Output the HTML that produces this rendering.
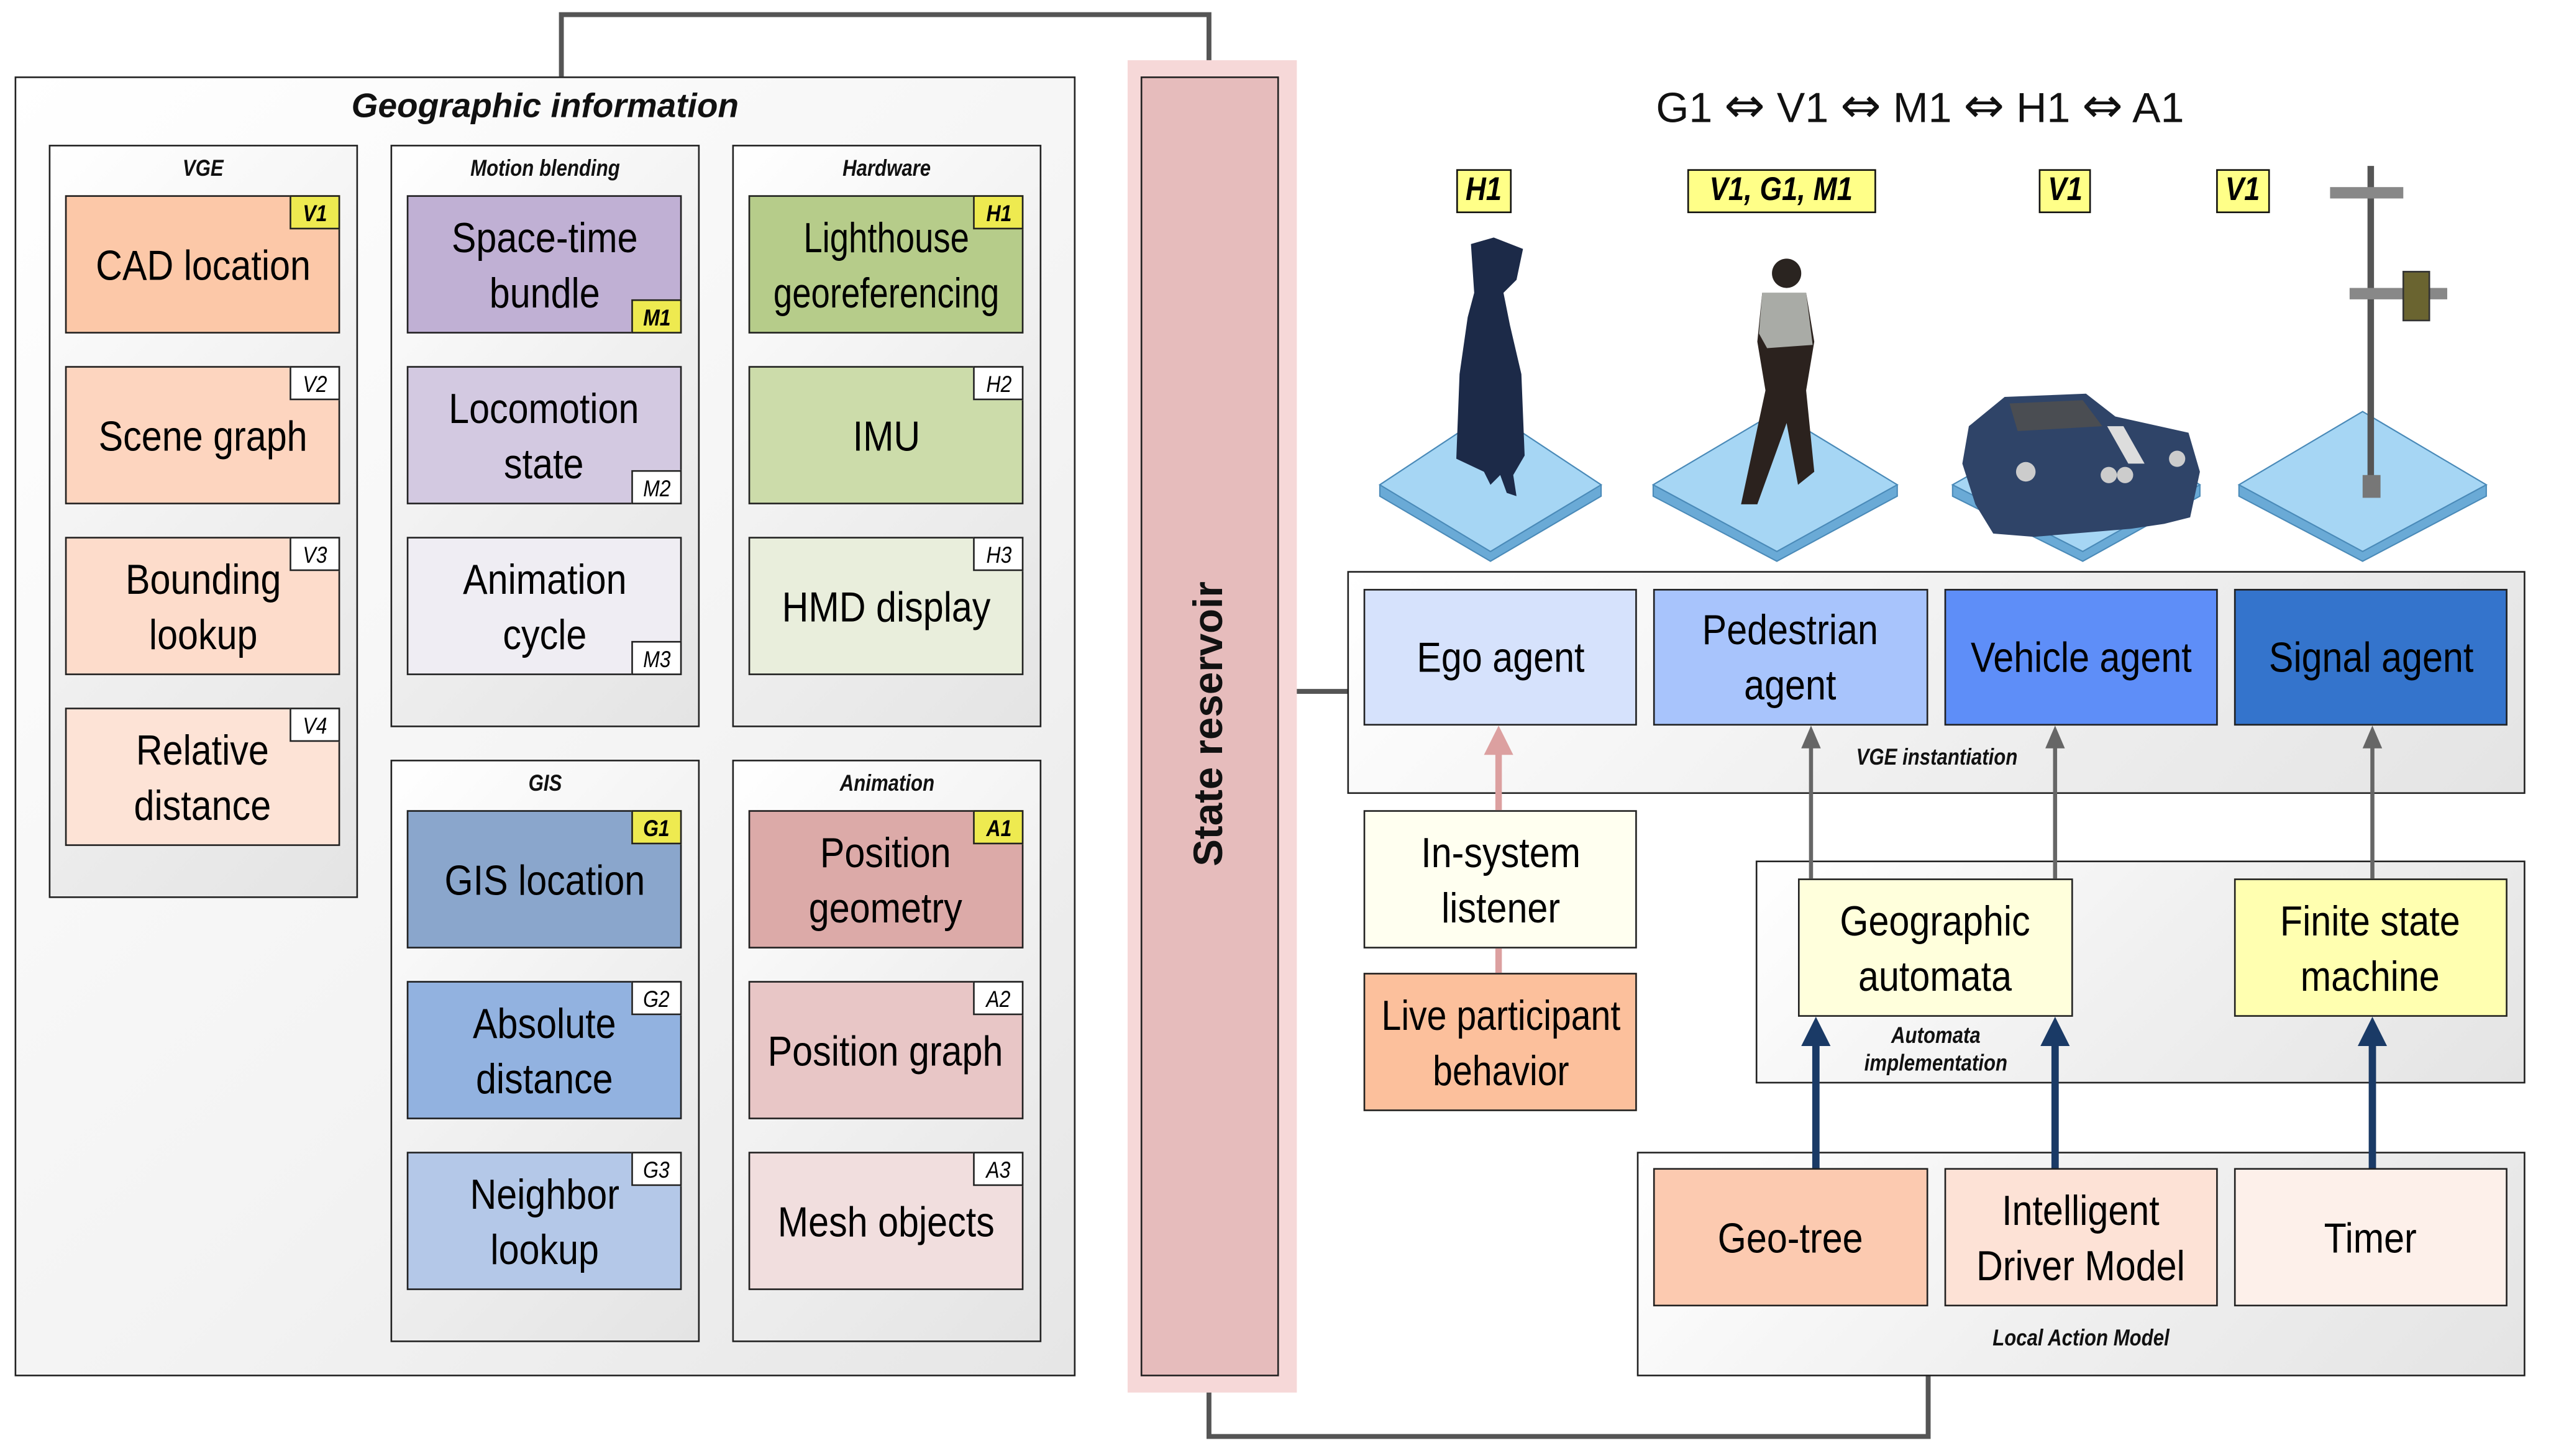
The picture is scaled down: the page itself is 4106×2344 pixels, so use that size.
<!DOCTYPE html>
<html><head><meta charset="utf-8"><style>
html,body{margin:0;padding:0;background:#fff;}
body{width:4106px;height:2342px;overflow:hidden;position:relative;}
#c{position:absolute;left:0;top:0;width:1568px;height:895px;transform:scale(2.619,2.619);transform-origin:0 0;font-family:"Liberation Sans",sans-serif;}
.a{position:absolute;box-sizing:border-box;}
.n{display:inline-block;transform:scaleX(0.87);white-space:nowrap;}
.panel{border:1.5px solid #222;background:linear-gradient(135deg,#ffffff 0%,#f0f0f0 50%,#e4e4e4 100%);}
.plab{position:absolute;left:0;right:0;text-align:center;font-weight:bold;font-style:italic;font-size:14px;color:#111;}
.plab .n{transform:scaleX(0.85);}
.box{border:1.5px solid #222;display:flex;align-items:center;justify-content:center;text-align:center;font-size:26px;line-height:34px;color:#000;}
.tag{position:absolute;width:31px;height:21px;border:1.2px solid #222;background:#fff;font-style:italic;font-size:14px;display:flex;align-items:center;justify-content:center;box-sizing:border-box;}
.tag.y{background:#eeea50;font-weight:bold;}
.tr{right:-1px;top:-1px;}
.br{right:-1px;bottom:-1px;}
.yl{position:absolute;border:1.5px solid #111;background:#ffff88;font-weight:bold;font-style:italic;font-size:20px;display:flex;align-items:center;justify-content:center;box-sizing:border-box;height:27px;}
</style></head><body><div id="c">

<svg class="a" style="left:0;top:0" width="1568" height="895">
<polyline points="345,47 345,9 743,9 743,47" fill="none" stroke="#555" stroke-width="3"/>
<polyline points="743,845 743,883 1185,883 1185,845" fill="none" stroke="#555" stroke-width="3"/>
<line x1="785" y1="425" x2="828" y2="425" stroke="#555" stroke-width="3"/>
</svg>

<div class="a" style="left:9px;top:47px;width:652px;height:799px;border:1.5px solid #222;background:linear-gradient(135deg,#fff 0%,#f3f3f3 60%,#e6e6e6 100%);">
 <div class="plab" style="top:6px;font-size:21px;"><span class="n" style="transform:scaleX(1)">Geographic information</span></div>
</div>

<div class="a panel" style="left:30px;top:89px;width:190px;height:463px;"><div class="plab" style="top:5px"><span class="n">VGE</span></div></div>
<div class="a panel" style="left:240px;top:89px;width:190px;height:358px;"><div class="plab" style="top:5px"><span class="n">Motion blending</span></div></div>
<div class="a panel" style="left:450px;top:89px;width:190px;height:358px;"><div class="plab" style="top:5px"><span class="n">Hardware</span></div></div>
<div class="a panel" style="left:240px;top:467px;width:190px;height:358px;"><div class="plab" style="top:5px"><span class="n">GIS</span></div></div>
<div class="a panel" style="left:450px;top:467px;width:190px;height:358px;"><div class="plab" style="top:5px"><span class="n">Animation</span></div></div>

<div class="a box" style="left:40px;top:120px;width:169px;height:85px;background:#fcc8a8;"><span class="n">CAD location</span><div class="tag y tr"><span class="n">V1</span></div></div>
<div class="a box" style="left:40px;top:225px;width:169px;height:85px;background:#fdd5bf;"><span class="n">Scene graph</span><div class="tag tr"><span class="n">V2</span></div></div>
<div class="a box" style="left:40px;top:330px;width:169px;height:85px;background:#fddccb;"><span class="n">Bounding<br>lookup</span><div class="tag tr"><span class="n">V3</span></div></div>
<div class="a box" style="left:40px;top:435px;width:169px;height:85px;background:#fde3d6;"><span class="n">Relative<br>distance</span><div class="tag tr"><span class="n">V4</span></div></div>

<div class="a box" style="left:250px;top:120px;width:169px;height:85px;background:#c0b0d4;"><span class="n">Space-time<br>bundle</span><div class="tag y br"><span class="n">M1</span></div></div>
<div class="a box" style="left:250px;top:225px;width:169px;height:85px;background:#d3c9e1;"><span class="n">Locomotion<br>state</span><div class="tag br"><span class="n">M2</span></div></div>
<div class="a box" style="left:250px;top:330px;width:169px;height:85px;background:#efedf3;"><span class="n">Animation<br>cycle</span><div class="tag br"><span class="n">M3</span></div></div>

<div class="a box" style="left:460px;top:120px;width:169px;height:85px;background:#b6cc8a;"><span class="n" style="transform:scaleX(0.8)">Lighthouse<br>georeferencing</span><div class="tag y tr"><span class="n">H1</span></div></div>
<div class="a box" style="left:460px;top:225px;width:169px;height:85px;background:#ccdcaa;"><span class="n">IMU</span><div class="tag tr"><span class="n">H2</span></div></div>
<div class="a box" style="left:460px;top:330px;width:169px;height:85px;background:#e9eedc;"><span class="n">HMD display</span><div class="tag tr"><span class="n">H3</span></div></div>

<div class="a box" style="left:250px;top:498px;width:169px;height:85px;background:#8aa6cc;"><span class="n">GIS location</span><div class="tag y tr"><span class="n">G1</span></div></div>
<div class="a box" style="left:250px;top:603px;width:169px;height:85px;background:#92b2e0;"><span class="n">Absolute<br>distance</span><div class="tag tr"><span class="n">G2</span></div></div>
<div class="a box" style="left:250px;top:708px;width:169px;height:85px;background:#b4c8e8;"><span class="n">Neighbor<br>lookup</span><div class="tag tr"><span class="n">G3</span></div></div>

<div class="a box" style="left:460px;top:498px;width:169px;height:85px;background:#dcaaa8;"><span class="n">Position<br>geometry</span><div class="tag y tr"><span class="n">A1</span></div></div>
<div class="a box" style="left:460px;top:603px;width:169px;height:85px;background:#e8c6c6;"><span class="n">Position graph</span><div class="tag tr"><span class="n">A2</span></div></div>
<div class="a box" style="left:460px;top:708px;width:169px;height:85px;background:#f1dede;"><span class="n">Mesh objects</span><div class="tag tr"><span class="n">A3</span></div></div>

<div class="a" style="left:693px;top:37px;width:104px;height:819px;background:#f6d8d8;"></div>
<div class="a" style="left:701px;top:47px;width:85px;height:799px;background:#e6bcbc;border:1.5px solid #222;"></div>
<div class="a" style="left:543px;top:430px;width:400px;height:30px;transform:rotate(-90deg);text-align:center;font-weight:bold;font-size:25px;line-height:30px;color:#111;">State reservoir</div>

<div class="a" style="left:930px;top:46px;width:500px;text-align:center;font-size:26px;color:#111;line-height:40px;">G1 <span style="font-family:'DejaVu Sans';font-size:30px">⇔</span> V1 <span style="font-family:'DejaVu Sans';font-size:30px">⇔</span> M1 <span style="font-family:'DejaVu Sans';font-size:30px">⇔</span> H1 <span style="font-family:'DejaVu Sans';font-size:30px">⇔</span> A1</div>
<div class="yl" style="left:895px;top:104px;width:34px;"><span class="n">H1</span></div>
<div class="yl" style="left:1037px;top:104px;width:116px;"><span class="n">V1, G1, M1</span></div>
<div class="yl" style="left:1253px;top:104px;width:32px;"><span class="n">V1</span></div>
<div class="yl" style="left:1362px;top:104px;width:33px;"><span class="n">V1</span></div>

<svg class="a" style="left:0;top:0" width="1568" height="895">
<g stroke="#4a8ab8" stroke-width="0.8">
 <polygon points="916,253 984,298 984,305 916,345 848,305 848,298" fill="#6aaad6"/><polygon points="916,253 984,298 916,339 848,298" fill="#a6d6f4"/>
 <polygon points="1092,253 1166,298 1166,305 1092,345 1016,305 1016,298" fill="#6aaad6"/><polygon points="1092,253 1166,298 1092,339 1016,298" fill="#a6d6f4"/>
 <polygon points="1280,253 1352,298 1352,305 1280,345 1200,305 1200,298" fill="#6aaad6"/><polygon points="1280,253 1352,298 1280,339 1200,298" fill="#a6d6f4"/>
 <polygon points="1452,253 1528,298 1528,305 1452,345 1376,305 1376,298" fill="#6aaad6"/><polygon points="1452,253 1528,298 1452,339 1376,298" fill="#a6d6f4"/>
</g>
<path d="M904,150 L918,146 L936,153 L932,172 L924,180 L928,200 L935,230 L937,280 L930,292 L932,305 L926,303 L922,292 L916,298 L912,290 L895,282 L897,230 L902,195 L906,180 Z" fill="#1c2a48"/>
<circle cx="1098" cy="168" r="9" fill="#2a2420"/>
<path d="M1083,180 L1110,180 L1115,210 L1110,240 L1115,290 L1105,298 L1098,260 L1080,310 L1070,310 L1085,240 L1080,210 Z" fill="#2b221e"/>
<path d="M1083,180 L1110,180 L1114,212 L1086,214 L1081,205 Z" fill="#a9aba6"/>
<path d="M1210,262 L1232,244 L1282,242 L1300,256 L1345,266 L1352,290 L1346,318 L1330,322 L1310,325 L1250,330 L1225,328 L1214,310 L1206,285 Z" fill="#2f4468"/>
<path d="M1235,248 L1280,246 L1292,262 L1240,265 Z" fill="#4a4d52"/>
<path d="M1295,262 L1305,262 L1318,285 L1308,285 Z" fill="#ddd"/>
<circle cx="1296" cy="292" r="5" fill="#ccc"/><circle cx="1306" cy="292" r="5" fill="#ccc"/><circle cx="1338" cy="282" r="5" fill="#ccc"/><circle cx="1245" cy="290" r="6" fill="#ccc"/>
<line x1="1457" y1="102" x2="1457" y2="300" stroke="#555" stroke-width="4"/>
<rect x="1452" y="292" width="11" height="14" fill="#777"/>
<rect x="1432" y="115" width="45" height="7" fill="#888"/>
<rect x="1444" y="177" width="60" height="7" fill="#888"/>
<rect x="1477" y="167" width="16" height="30" fill="#6a6430" stroke="#333"/>
</svg>

<div class="a panel" style="left:828px;top:351px;width:724px;height:137px;"><div class="plab" style="top:105px"><span class="n">VGE instantiation</span></div></div>
<div class="a box" style="left:838px;top:362px;width:168px;height:84px;background:#d6e2fc;"><span class="n">Ego agent</span></div>
<div class="a box" style="left:1016px;top:362px;width:169px;height:84px;background:#a8c4fc;"><span class="n">Pedestrian<br>agent</span></div>
<div class="a box" style="left:1195px;top:362px;width:168px;height:84px;background:#5e8ef8;"><span class="n">Vehicle agent</span></div>
<div class="a box" style="left:1373px;top:362px;width:168px;height:84px;background:#3474cc;"><span class="n">Signal agent</span></div>

<div class="a panel" style="left:1079px;top:529px;width:473px;height:137px;"><div class="plab" style="top:98px;line-height:17px;left:20px;width:180px;right:auto;"><span class="n">Automata<br>implementation</span></div></div>
<div class="a box" style="left:1105px;top:540px;width:169px;height:85px;background:#ffffdc;"><span class="n">Geographic<br>automata</span></div>
<div class="a box" style="left:1373px;top:540px;width:168px;height:85px;background:#ffffb0;"><span class="n">Finite state<br>machine</span></div>

<div class="a box" style="left:838px;top:498px;width:168px;height:85px;background:#fffff0;"><span class="n">In-system<br>listener</span></div>
<div class="a box" style="left:838px;top:598px;width:168px;height:85px;background:#fcc09c;"><span class="n" style="transform:scaleX(0.84)">Live participant<br>behavior</span></div>

<div class="a panel" style="left:1006px;top:708px;width:546px;height:138px;"><div class="plab" style="top:105px"><span class="n">Local Action Model</span></div></div>
<div class="a box" style="left:1016px;top:718px;width:169px;height:85px;background:#fccab0;"><span class="n">Geo-tree</span></div>
<div class="a box" style="left:1195px;top:718px;width:168px;height:85px;background:#fde2d6;"><span class="n">Intelligent<br>Driver Model</span></div>
<div class="a box" style="left:1373px;top:718px;width:168px;height:85px;background:#fdf0ea;"><span class="n">Timer</span></div>

<svg class="a" style="left:0;top:0" width="1568" height="895">
<line x1="921" y1="463" x2="921" y2="498" stroke="#dca0a0" stroke-width="4"/>
<polygon points="912,464 930,464 921,446" fill="#dca0a0"/>
<line x1="921" y1="583" x2="921" y2="598" stroke="#dca0a0" stroke-width="4"/>
<g stroke="#666" stroke-width="2.5">
<line x1="1113" y1="458" x2="1113" y2="540"/><line x1="1263" y1="458" x2="1263" y2="540"/><line x1="1458" y1="458" x2="1458" y2="540"/></g>
<g fill="#666"><polygon points="1107,460 1119,460 1113,446"/><polygon points="1257,460 1269,460 1263,446"/><polygon points="1452,460 1464,460 1458,446"/></g>
<g stroke="#1a3a66" stroke-width="4.5">
<line x1="1116" y1="640" x2="1116" y2="718"/><line x1="1263" y1="640" x2="1263" y2="718"/><line x1="1458" y1="640" x2="1458" y2="718"/></g>
<g fill="#1a3a66"><polygon points="1107,643 1125,643 1116,625"/><polygon points="1254,643 1272,643 1263,625"/><polygon points="1449,643 1467,643 1458,625"/></g>
</svg>

</div></body></html>
